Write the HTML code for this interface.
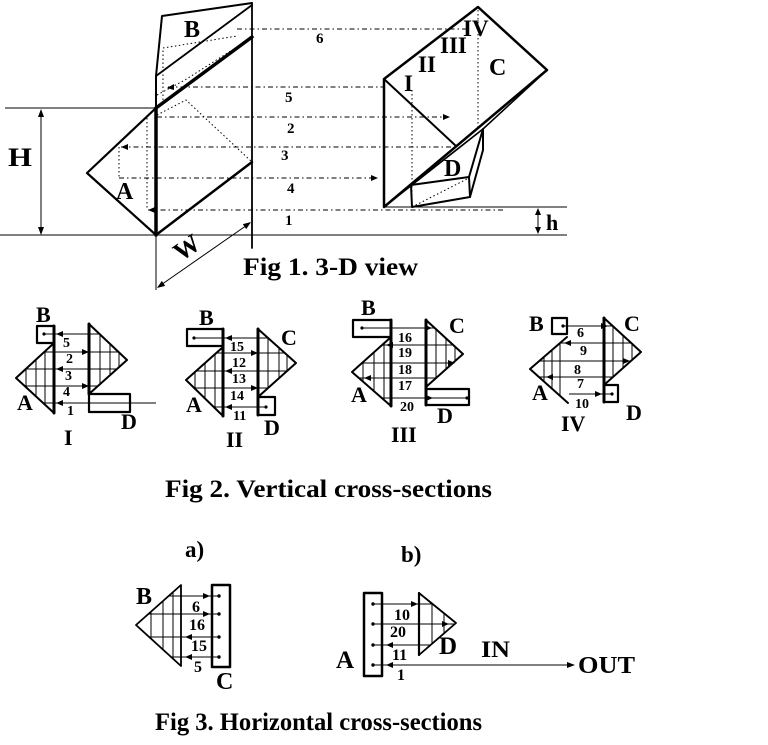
<!DOCTYPE html>
<html><head><meta charset="utf-8"><style>
html,body{margin:0;padding:0;background:#fff;}
svg{display:block;}
text{font-family:"Liberation Serif","DejaVu Serif",serif;font-weight:bold;fill:#000;}
.k{stroke:#000;fill:none;stroke-linecap:round;stroke-linejoin:round;}
.t{stroke:#000;fill:none;stroke-width:1;}
.dd{stroke:#000;fill:none;stroke-width:1;stroke-dasharray:5 3 1.5 3;}
.dt{stroke:#000;fill:none;stroke-width:1;stroke-dasharray:1.5 2.5;}
.ah{fill:#000;stroke:none;}
</style></head><body>
<svg width="768" height="745" viewBox="0 0 768 745" xmlns="http://www.w3.org/2000/svg">
<defs>
<clipPath id="a1"><polygon points="54,343 16,378 54,413"/></clipPath>
<clipPath id="c1"><polygon points="89,324 127,360 89,394"/></clipPath>
<clipPath id="a2"><polygon points="223,347 186,380 223,416"/></clipPath>
<clipPath id="c2"><polygon points="258,329 296,363 258,397"/></clipPath>
<clipPath id="a3"><polygon points="391,337 352,372 391,406"/></clipPath>
<clipPath id="c3"><polygon points="426,320 463,354 426,387"/></clipPath>
<clipPath id="a4"><polygon points="567,337 530,369 567,403"/></clipPath>
<clipPath id="c4"><polygon points="604,318 641,352 604,385"/></clipPath>
<clipPath id="b5"><polygon points="181,585 136,625 181,666"/></clipPath>
<clipPath id="d6"><polygon points="419,593 456,623 419,655"/></clipPath>
</defs>

<!-- ================= FIG 1 ================= -->
<line class="dd" x1="237" y1="29" x2="470" y2="29"/>
<line class="dd" x1="168" y1="87" x2="384" y2="87"/>
<line class="dd" x1="157" y1="117" x2="449" y2="117"/>
<line class="dd" x1="121" y1="147" x2="457" y2="147"/>
<line class="dd" x1="119" y1="178" x2="377" y2="178"/>
<line class="dd" x1="148" y1="210" x2="503" y2="210"/>
<line class="dt" x1="147" y1="118" x2="147" y2="210"/>
<line class="dt" x1="119" y1="147" x2="119" y2="178"/>
<line class="dt" x1="412" y1="90" x2="412" y2="207"/>
<line class="dt" x1="478" y1="10" x2="478" y2="130"/>
<polyline class="dt" points="157,115 186,100 252,162"/>
<polyline class="dt" points="163,100 163,48 237,36"/>
<polyline class="dt" points="157,95 185,80 240,45"/>
<path class="ah" d="M167 88 l7 -4 v6z"/>
<path class="ah" d="M450 117 l-7 -3 v6z"/>
<path class="ah" d="M121 147 l7 -3 v6z"/>
<path class="ah" d="M378 178 l-7 -3 v6z"/>
<path class="ah" d="M148 210 l7 -3 v6z"/>

<polyline class="k" points="156,108 156,76 162,16 252,3" stroke-width="2"/>
<line class="k" x1="156" y1="76" x2="252" y2="5" stroke-width="1.8"/>
<line class="k" x1="156" y1="108" x2="252" y2="37" stroke-width="3.5"/>
<line class="k" x1="252" y1="3" x2="252" y2="248" stroke-width="1.8"/>
<polyline class="k" points="156,108 87,173 156,235" stroke-width="2.2"/>
<line class="k" x1="156" y1="108" x2="156" y2="235" stroke-width="3.5"/>
<line class="k" x1="156" y1="235" x2="252" y2="162" stroke-width="2.5"/>
<line class="t" x1="5" y1="108" x2="156" y2="108" stroke-width="1.3"/>
<line class="t" x1="0" y1="235" x2="567" y2="235" stroke-width="1.3"/>
<line class="t" x1="156" y1="235" x2="156" y2="290" stroke-width="1.2"/>
<line class="t" x1="41" y1="112" x2="41" y2="232"/>
<path class="ah" d="M41 109 l-3 8 h6z"/>
<path class="ah" d="M41 235 l-3 -8 h6z"/>
<line class="t" x1="158" y1="287" x2="250" y2="223"/>
<polygon class="ah" points="251,222 242.8,224.1 246.2,229.1"/>
<polygon class="ah" points="157,288 165.2,285.9 161.8,280.9"/>

<polygon class="k" points="384,207 384,79 478,7 547,70" stroke-width="2.5"/>
<line class="k" x1="384" y1="79" x2="456" y2="146" stroke-width="2"/>
<polyline class="k" points="384,207 483,129 547,70" stroke-width="1.6"/>
<line class="k" x1="411" y1="185" x2="483" y2="129" stroke-width="1.3"/>
<line class="t" x1="384" y1="207" x2="567" y2="207" stroke-width="1.3"/>
<polygon class="k" points="411,185 469,177 470,197 412,207" stroke-width="2"/>
<polyline class="k" points="469,177 483,129 483,150 470,197" stroke-width="2"/>
<line class="dt" x1="412" y1="207" x2="469" y2="178"/>
<line class="t" x1="538" y1="211" x2="538" y2="231"/>
<path class="ah" d="M538 208 l-3 7 h6z"/>
<path class="ah" d="M538 234 l-3 -7 h6z"/>

<text x="8" y="166" font-size="26" textLength="24" lengthAdjust="spacingAndGlyphs">H</text>
<text x="116" y="199" font-size="24">A</text>
<text x="184" y="37" font-size="24">B</text>
<text x="0" y="0" font-size="26" transform="translate(181,262) rotate(-35)">W</text>
<text x="316" y="43" font-size="15">6</text>
<text x="285" y="102" font-size="15">5</text>
<text x="287" y="133" font-size="15">2</text>
<text x="281" y="160" font-size="15">3</text>
<text x="287" y="193" font-size="15">4</text>
<text x="285" y="225" font-size="15">1</text>
<text x="404" y="91" font-size="23">I</text>
<text x="418" y="72" font-size="23">II</text>
<text x="440" y="53" font-size="23">III</text>
<text x="463" y="36" font-size="23">IV</text>
<text x="489" y="75" font-size="24">C</text>
<text x="444" y="176" font-size="24">D</text>
<text x="546" y="230" font-size="22">h</text>
<text x="243" y="275" font-size="25" textLength="175" lengthAdjust="spacingAndGlyphs">Fig 1. 3-D view</text>

<!-- ================= FIG 2 : I ================= -->
<g clip-path="url(#a1)" class="t">
<line x1="26" y1="330" x2="26" y2="420"/><line x1="36" y1="330" x2="36" y2="420"/><line x1="45" y1="330" x2="45" y2="420"/>
<line x1="10" y1="352" x2="60" y2="352"/><line x1="10" y1="369" x2="60" y2="369"/><line x1="10" y1="386" x2="60" y2="386"/><line x1="10" y1="403" x2="60" y2="403"/>
</g>
<g clip-path="url(#c1)" class="t">
<line x1="100" y1="320" x2="100" y2="400"/><line x1="110" y1="320" x2="110" y2="400"/><line x1="119" y1="320" x2="119" y2="400"/>
<line x1="85" y1="334" x2="130" y2="334"/><line x1="85" y1="352" x2="130" y2="352"/><line x1="85" y1="369" x2="130" y2="369"/><line x1="85" y1="386" x2="130" y2="386"/>
</g>
<line class="t" x1="44" y1="334" x2="89" y2="334"/>
<line class="t" x1="54" y1="352" x2="89" y2="352"/>
<line class="t" x1="54" y1="369" x2="89" y2="369"/>
<line class="t" x1="54" y1="386" x2="89" y2="386"/>
<line class="t" x1="54" y1="403" x2="156" y2="403"/>
<rect class="k" x="37" y="326" width="17" height="17" stroke-width="2.2"/>
<circle cx="44" cy="334" r="1.6"/>
<line class="k" x1="54" y1="326" x2="54" y2="413" stroke-width="3"/>
<polyline class="k" points="54,343 16,378 54,413" stroke-width="2"/>
<line class="k" x1="89" y1="324" x2="89" y2="394" stroke-width="3"/>
<polyline class="k" points="89,324 127,360 89,394" stroke-width="2"/>
<rect class="k" x="89" y="394" width="41" height="18" stroke-width="2.2"/>
<path class="ah" d="M56 334 l7 -3 v6z"/>
<path class="ah" d="M89 352 l-7 -3 v6z"/>
<path class="ah" d="M56 369 l7 -3 v6z"/>
<path class="ah" d="M89 386 l-7 -3 v6z"/>
<path class="ah" d="M56 403 l7 -3 v6z"/>
<text x="36" y="322" font-size="22">B</text>
<text x="17" y="410" font-size="22">A</text>
<text x="121" y="429" font-size="22">D</text>
<text x="64" y="445" font-size="22">I</text>
<text x="63" y="347" font-size="14">5</text>
<text x="66" y="363" font-size="14">2</text>
<text x="65" y="380" font-size="14">3</text>
<text x="63" y="396" font-size="14">4</text>
<text x="67" y="415" font-size="14">1</text>

<!-- ================= FIG 2 : II ================= -->
<g clip-path="url(#a2)" class="t">
<line x1="195" y1="330" x2="195" y2="420"/><line x1="205" y1="330" x2="205" y2="420"/><line x1="215" y1="330" x2="215" y2="420"/>
<line x1="180" y1="353" x2="230" y2="353"/><line x1="180" y1="371" x2="230" y2="371"/><line x1="180" y1="388" x2="230" y2="388"/><line x1="180" y1="407" x2="230" y2="407"/>
</g>
<g clip-path="url(#c2)" class="t">
<line x1="268" y1="320" x2="268" y2="400"/><line x1="279" y1="320" x2="279" y2="400"/><line x1="287" y1="320" x2="287" y2="400"/>
<line x1="255" y1="338" x2="300" y2="338"/><line x1="255" y1="353" x2="300" y2="353"/><line x1="255" y1="371" x2="300" y2="371"/><line x1="255" y1="388" x2="300" y2="388"/>
</g>
<line class="t" x1="194" y1="338" x2="258" y2="338"/>
<line class="t" x1="223" y1="353" x2="258" y2="353"/>
<line class="t" x1="223" y1="371" x2="258" y2="371"/>
<line class="t" x1="223" y1="388" x2="258" y2="388"/>
<line class="t" x1="216" y1="407" x2="266" y2="407"/>
<rect class="k" x="187" y="329" width="36" height="17" stroke-width="2.2"/>
<circle cx="194" cy="338" r="1.6"/>
<line class="k" x1="223" y1="329" x2="223" y2="416" stroke-width="3"/>
<polyline class="k" points="223,347 186,380 223,416" stroke-width="2"/>
<line class="k" x1="258" y1="329" x2="258" y2="415" stroke-width="3"/>
<polyline class="k" points="258,329 296,363 258,397" stroke-width="2"/>
<rect class="k" x="258" y="397" width="17" height="18" stroke-width="2.2"/>
<circle cx="266" cy="407" r="1.6"/>
<path class="ah" d="M225 338 l7 -3 v6z"/>
<path class="ah" d="M258 353 l-7 -3 v6z"/>
<path class="ah" d="M225 371 l7 -3 v6z"/>
<path class="ah" d="M258 388 l-7 -3 v6z"/>
<path class="ah" d="M225 407 l7 -3 v6z"/>
<text x="199" y="325" font-size="22">B</text>
<text x="281" y="345" font-size="22">C</text>
<text x="186" y="412" font-size="22">A</text>
<text x="264" y="435" font-size="22">D</text>
<text x="226" y="447" font-size="22">II</text>
<text x="230" y="351" font-size="14">15</text>
<text x="232" y="367" font-size="14">12</text>
<text x="232" y="383" font-size="14">13</text>
<text x="230" y="400" font-size="14">14</text>
<text x="233" y="420" font-size="14">11</text>

<!-- ================= FIG 2 : III ================= -->
<g clip-path="url(#a3)" class="t">
<line x1="363" y1="330" x2="363" y2="410"/><line x1="374" y1="330" x2="374" y2="410"/><line x1="384" y1="330" x2="384" y2="410"/>
<line x1="345" y1="345" x2="395" y2="345"/><line x1="345" y1="363" x2="395" y2="363"/><line x1="345" y1="378" x2="395" y2="378"/><line x1="345" y1="398" x2="395" y2="398"/>
</g>
<g clip-path="url(#c3)" class="t">
<line x1="436" y1="315" x2="436" y2="395"/><line x1="446" y1="315" x2="446" y2="395"/><line x1="455" y1="315" x2="455" y2="395"/>
<line x1="420" y1="328" x2="470" y2="328"/><line x1="420" y1="345" x2="470" y2="345"/><line x1="420" y1="363" x2="470" y2="363"/><line x1="420" y1="378" x2="470" y2="378"/>
</g>
<line class="t" x1="362" y1="328" x2="426" y2="328"/>
<line class="t" x1="391" y1="345" x2="426" y2="345"/>
<line class="t" x1="391" y1="363" x2="426" y2="363"/>
<line class="t" x1="391" y1="378" x2="426" y2="378"/>
<line class="t" x1="391" y1="398" x2="467" y2="398"/>
<rect class="k" x="353" y="320" width="38" height="17" stroke-width="2.2"/>
<circle cx="362" cy="328" r="1.6"/>
<line class="k" x1="391" y1="320" x2="391" y2="406" stroke-width="3"/>
<polyline class="k" points="391,337 352,372 391,406" stroke-width="2"/>
<line class="k" x1="426" y1="320" x2="426" y2="405" stroke-width="3"/>
<polyline class="k" points="426,320 463,354 426,387" stroke-width="2"/>
<rect class="k" x="426" y="389" width="43" height="16" stroke-width="2.2"/>
<circle cx="467" cy="398" r="1.6"/>
<path class="ah" d="M432 328 l-7 -3 v6z"/>
<path class="ah" d="M386 345 l7 -3 v6z"/>
<path class="ah" d="M455 363 l-7 -3 v6z"/>
<path class="ah" d="M364 378 l7 -3 v6z"/>
<path class="ah" d="M433 398 l-7 -3 v6z"/>
<text x="361" y="315" font-size="22">B</text>
<text x="449" y="333" font-size="22">C</text>
<text x="351" y="402" font-size="22">A</text>
<text x="437" y="423" font-size="22">D</text>
<text x="391" y="442" font-size="22">III</text>
<text x="398" y="342" font-size="14">16</text>
<text x="398" y="357" font-size="14">19</text>
<text x="398" y="374" font-size="14">18</text>
<text x="398" y="390" font-size="14">17</text>
<text x="400" y="411" font-size="14">20</text>

<!-- ================= FIG 2 : IV ================= -->
<g clip-path="url(#a4)" class="t">
<line x1="544" y1="330" x2="544" y2="410"/><line x1="552" y1="330" x2="552" y2="410"/><line x1="560" y1="330" x2="560" y2="410"/>
<line x1="525" y1="343" x2="570" y2="343"/><line x1="525" y1="361" x2="570" y2="361"/><line x1="525" y1="377" x2="570" y2="377"/>
</g>
<g clip-path="url(#c4)" class="t">
<line x1="613" y1="315" x2="613" y2="395"/><line x1="623" y1="315" x2="623" y2="395"/><line x1="632" y1="315" x2="632" y2="395"/>
<line x1="600" y1="326" x2="645" y2="326"/><line x1="600" y1="343" x2="645" y2="343"/><line x1="600" y1="361" x2="645" y2="361"/><line x1="600" y1="377" x2="645" y2="377"/>
</g>
<line class="t" x1="563" y1="326" x2="604" y2="326"/>
<line class="t" x1="563" y1="343" x2="604" y2="343"/>
<line class="t" x1="567" y1="361" x2="604" y2="361"/>
<line class="t" x1="567" y1="377" x2="604" y2="377"/>
<line class="t" x1="569" y1="394" x2="612" y2="394"/>
<rect class="k" x="552" y="318" width="15" height="16" stroke-width="2.2"/>
<circle cx="563" cy="326" r="1.6"/>
<polyline class="k" points="567,337 530,369 568,403" stroke-width="2"/>
<line class="k" x1="604" y1="318" x2="604" y2="402" stroke-width="3"/>
<polyline class="k" points="604,318 641,352 604,385" stroke-width="2"/>
<rect class="k" x="604" y="385" width="14" height="17" stroke-width="2.2"/>
<circle cx="612" cy="394" r="1.6"/>
<path class="ah" d="M608 326 l-7 -3 v6z"/>
<path class="ah" d="M564 343 l7 -3 v6z"/>
<path class="ah" d="M630 361 l-7 -3 v6z"/>
<path class="ah" d="M546 377 l7 -3 v6z"/>
<path class="ah" d="M602 394 l-7 -3 v6z"/>
<text x="529" y="331" font-size="22">B</text>
<text x="624" y="331" font-size="22">C</text>
<text x="532" y="400" font-size="22">A</text>
<text x="626" y="420" font-size="22">D</text>
<text x="561" y="431" font-size="22">IV</text>
<text x="577" y="337" font-size="14">6</text>
<text x="580" y="355" font-size="14">9</text>
<text x="574" y="374" font-size="14">8</text>
<text x="577" y="388" font-size="14">7</text>
<text x="575" y="408" font-size="14">10</text>

<text x="165" y="497" font-size="25" textLength="327" lengthAdjust="spacingAndGlyphs">Fig 2. Vertical cross-sections</text>

<!-- ================= FIG 3 a ================= -->
<text x="185" y="557" font-size="23">a)</text>
<g clip-path="url(#b5)" class="t">
<line x1="151" y1="580" x2="151" y2="670"/><line x1="163" y1="580" x2="163" y2="670"/><line x1="173" y1="580" x2="173" y2="670"/>
<line x1="130" y1="596" x2="185" y2="596"/><line x1="130" y1="614" x2="185" y2="614"/><line x1="130" y1="637" x2="185" y2="637"/><line x1="130" y1="657" x2="185" y2="657"/>
</g>
<line class="t" x1="181" y1="596" x2="219" y2="596"/>
<line class="t" x1="181" y1="614" x2="219" y2="614"/>
<line class="t" x1="181" y1="637" x2="219" y2="637"/>
<line class="t" x1="181" y1="657" x2="219" y2="657"/>
<polygon class="k" points="181,585 136,625 181,666" stroke-width="1.8"/>
<rect class="k" x="212" y="585" width="18" height="82" stroke-width="2.5"/>
<circle cx="219" cy="596" r="1.7"/><circle cx="219" cy="614" r="1.7"/><circle cx="219" cy="637" r="1.7"/><circle cx="219" cy="657" r="1.7"/>
<path class="ah" d="M210 596 l-7 -3 v6z"/>
<path class="ah" d="M210 614 l-7 -3 v6z"/>
<path class="ah" d="M185 637 l7 -3 v6z"/>
<path class="ah" d="M185 657 l7 -3 v6z"/>
<text x="136" y="604" font-size="24">B</text>
<text x="216" y="689" font-size="24">C</text>
<text x="192" y="612" font-size="16">6</text>
<text x="189" y="630" font-size="16">16</text>
<text x="191" y="651" font-size="16">15</text>
<text x="194" y="672" font-size="16">5</text>

<!-- ================= FIG 3 b ================= -->
<text x="401" y="562" font-size="23">b)</text>
<g clip-path="url(#d6)" class="t">
<line x1="432" y1="585" x2="432" y2="660"/><line x1="444" y1="585" x2="444" y2="660"/>
<line x1="415" y1="604" x2="460" y2="604"/><line x1="415" y1="624" x2="460" y2="624"/><line x1="415" y1="645" x2="460" y2="645"/>
</g>
<line class="t" x1="373" y1="604" x2="419" y2="604"/>
<line class="t" x1="373" y1="624" x2="419" y2="624"/>
<line class="t" x1="373" y1="645" x2="419" y2="645"/>
<line class="t" x1="373" y1="665" x2="572" y2="665"/>
<polygon class="k" points="419,593 456,623 419,655" stroke-width="1.8"/>
<line class="k" x1="419" y1="593" x2="419" y2="655" stroke-width="2.2"/>
<rect class="k" x="364" y="593" width="18" height="83" stroke-width="2.5"/>
<circle cx="373" cy="604" r="1.7"/><circle cx="373" cy="624" r="1.7"/><circle cx="373" cy="645" r="1.7"/><circle cx="373" cy="665" r="1.7"/>
<path class="ah" d="M418 604 l-7 -3 v6z"/>
<path class="ah" d="M449 624 l-7 -3 v6z"/>
<path class="ah" d="M386 645 l7 -3 v6z"/>
<path class="ah" d="M386 665 l7 -3 v6z"/>
<path class="ah" d="M575 665 l-8 -3 v6z"/>
<text x="336" y="668" font-size="25">A</text>
<text x="439" y="654" font-size="25">D</text>
<text x="481" y="657" font-size="23" textLength="29" lengthAdjust="spacingAndGlyphs">IN</text>
<text x="578" y="673" font-size="24" textLength="57" lengthAdjust="spacingAndGlyphs">OUT</text>
<text x="394" y="620" font-size="16">10</text>
<text x="390" y="637" font-size="16">20</text>
<text x="392" y="660" font-size="16">11</text>
<text x="397" y="680" font-size="16">1</text>

<text x="155" y="730" font-size="25" textLength="327" lengthAdjust="spacingAndGlyphs">Fig 3. Horizontal cross-sections</text>
</svg>
</body></html>
